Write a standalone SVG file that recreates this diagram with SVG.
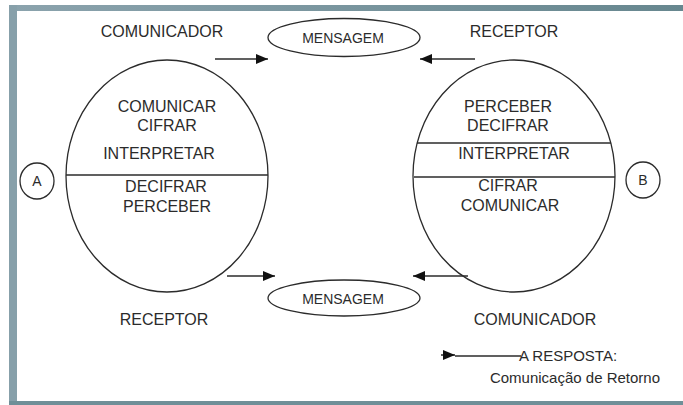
<svg xmlns="http://www.w3.org/2000/svg" width="683" height="405" viewBox="0 0 683 405">
<style>
  .t { font-family: "Liberation Sans", Arial, sans-serif; font-size: 16px; fill: #2b2b2b; text-anchor: middle; }
  .s { font-size: 14px; }
  .shape { fill: none; stroke: #2b2b2b; stroke-width: 1.3; }
  .ln { stroke: #2b2b2b; stroke-width: 1.5; fill: none; }
</style>
<defs>
  <marker id="ah" viewBox="0 0 12 10" refX="12" refY="5" markerWidth="12" markerHeight="10" markerUnits="userSpaceOnUse" orient="auto">
    <path d="M0,0 L12,5 L0,10 Z" fill="#111"/>
  </marker>
  <linearGradient id="topg" x1="0" y1="0" x2="1" y2="0">
    <stop offset="0" stop-color="#8ba3ad"/>
    <stop offset="1" stop-color="#67878f"/>
  </linearGradient>
</defs>
<rect x="0" y="0" width="683" height="405" fill="#ffffff"/>
<g id="frame">
  <rect x="9" y="5" width="674" height="6" fill="url(#topg)"/>
  <rect x="9" y="5" width="8" height="400" fill="#87a0aa"/>
  <rect x="9" y="401" width="674" height="4" fill="#6f8f98"/>
</g>
<g id="connectors">
  <line class="ln" x1="215" y1="59" x2="268" y2="59" marker-end="url(#ah)"/>
  <line class="ln" x1="475" y1="59" x2="420" y2="59" marker-end="url(#ah)"/>
  <line class="ln" x1="227" y1="276" x2="275" y2="276" marker-end="url(#ah)"/>
  <line class="ln" x1="468" y1="276" x2="413" y2="276" marker-end="url(#ah)"/>
  <line class="ln" x1="441" y1="355" x2="455" y2="355" marker-end="url(#ah)"/>
  <line class="ln" x1="455" y1="356" x2="521" y2="356"/>
</g>
<g id="label-comunicador-top"><text class="t" x="162" y="37">COMUNICADOR</text></g>
<g id="label-receptor-top"><text class="t" x="514" y="37">RECEPTOR</text></g>
<g id="mensagem-top">
  <ellipse class="shape" cx="344" cy="37.5" rx="76" ry="19"/>
  <text class="t s" x="343" y="43">MENSAGEM</text>
</g>
<g id="circle-a-big">
  <ellipse class="shape" cx="167" cy="176" rx="101" ry="116"/>
  <line class="shape" x1="66" y1="175" x2="268" y2="175"/>
  <text class="t" x="167" y="112">COMUNICAR</text>
  <text class="t" x="167" y="131">CIFRAR</text>
  <text class="t" x="159" y="159">INTERPRETAR</text>
  <text class="t" x="166" y="192">DECIFRAR</text>
  <text class="t" x="167" y="212">PERCEBER</text>
</g>
<g id="circle-b-big">
  <ellipse class="shape" cx="514" cy="176" rx="101" ry="116"/>
  <line class="shape" x1="417" y1="143" x2="611" y2="143"/>
  <line class="shape" x1="414" y1="177" x2="615" y2="177"/>
  <text class="t" x="508" y="112">PERCEBER</text>
  <text class="t" x="508" y="131">DECIFRAR</text>
  <text class="t" x="514" y="159">INTERPRETAR</text>
  <text class="t" x="508" y="191">CIFRAR</text>
  <text class="t" x="510" y="211">COMUNICAR</text>
</g>
<g id="node-a">
  <ellipse class="shape" cx="37" cy="181" rx="17" ry="18"/>
  <text class="t s" x="37" y="186">A</text>
</g>
<g id="node-b">
  <ellipse class="shape" cx="643" cy="180" rx="17" ry="18"/>
  <text class="t s" x="643" y="185">B</text>
</g>
<g id="mensagem-bottom">
  <ellipse class="shape" cx="344" cy="298" rx="76" ry="18"/>
  <text class="t s" x="343" y="304">MENSAGEM</text>
</g>
<g id="label-receptor-bottom"><text class="t" x="164" y="325">RECEPTOR</text></g>
<g id="label-comunicador-bottom"><text class="t" x="535" y="325">COMUNICADOR</text></g>
<g id="legend">
  <text class="t" x="519" y="361" style="text-anchor:start;font-size:15px">A RESPOSTA:</text>
  <text class="t" x="575" y="383" style="font-size:15px">Comunicação de Retorno</text>
</g>
</svg>
